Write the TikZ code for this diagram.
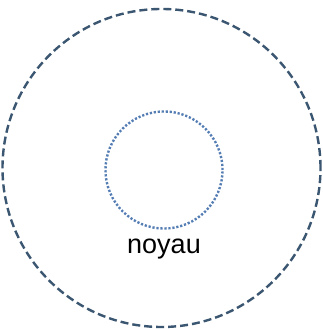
\documentclass[tikz,border=0pt]{standalone}
\usepackage{fontspec}
\setmainfont{Liberation Sans}
\usetikzlibrary{positioning}
\definecolor{cellblue}{RGB}{59,86,112}
\definecolor{coreblue}{RGB}{84,125,180}

\begin{document}
\begin{tikzpicture}[
  x=1pt, y=1pt,
  outer/.style={circle, draw=cellblue, line width=2.4pt, dash pattern=on 8pt off 4pt, minimum size=318pt, inner sep=0pt},
  core/.style={circle, draw=coreblue, line width=2.4pt, dash pattern=on 2.2pt off 1.8pt, minimum size=117pt, inner sep=0pt},
  lbl/.style={font=\fontsize{27}{30}\selectfont, inner sep=0pt}
]
  \useasboundingbox (0,0) rectangle (323,329);

  % cell
  \node[outer] (cell) at (161.5,161) {};

  % nucleus
  \node[core] (noyau) at (164,159) {};
  \node[lbl, below=9pt of noyau] (noyaulabel) {noyau};
\end{tikzpicture}
\end{document}
